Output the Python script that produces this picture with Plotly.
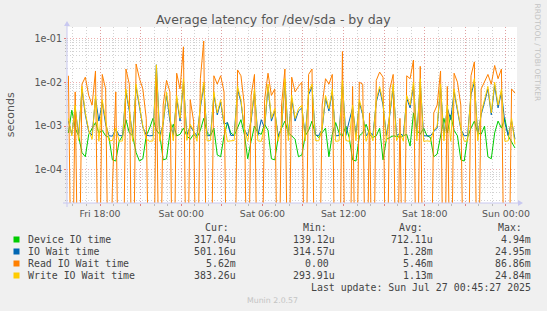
import pandas as pd
import plotly.graph_objects as go

# ---------------- data (values in microseconds, 15-minute samples) ----------------
start_time = "2025-07-25 15:40"
n_samples = 133

device_io_us = [
    700, 2300, 900, 600, 250, 200, 650, 900, 1200, 700,
    800, 600, 550, 170, 160, 450, 600, 1400, 700, 600,
    250, 160, 180, 600, 900, 1500, 800, 650, 170, 180,
    700, 1100, 600, 650, 900, 600, 500, 650, 550, 800,
    1500, 700, 600, 900, 220, 200, 600, 1200, 700, 600,
    900, 1400, 650, 180, 450, 1000, 700, 650, 1100, 800,
    180, 170, 550, 900, 1300, 700, 600, 500, 200, 220,
    600, 800, 1300, 650, 550, 700, 900, 200, 650, 1200,
    700, 600, 1000, 550, 170, 160, 600, 700, 1100, 650,
    550, 600, 900, 170, 500, 550, 600, 580, 560, 600,
    650, 350, 2000, 800, 650, 900, 600, 550, 200, 230,
    600, 1500, 700, 1800, 800, 600, 170, 160, 550, 900,
    1300, 700, 650, 1000, 200, 180, 700, 1300, 900, 1500,
    600, 450, 317,
]

io_wait_us = [
    1300, 650, 2600, 600, 7000, 1800, 750, 620, 4300, 1300,
    3500, 1100, 600, 590, 850, 610, 600, 6000, 2200, 600,
    7800, 2600, 950, 620, 600, 610, 24950, 600, 1100, 5200,
    1300, 610, 4300, 1300, 10000, 620, 1000, 750, 600, 2600,
    8500, 600, 610, 5200, 1800, 3500, 1100, 1200, 610, 620,
    7000, 3500, 850, 600, 1300, 6000, 610, 1400, 900, 7800,
    1300, 2200, 600, 900, 10000, 610, 4300, 1300, 2200, 2600,
    610, 5200, 7800, 620, 610, 850, 4300, 2200, 6000, 600,
    610, 9500, 620, 1300, 2600, 610, 3500, 1800, 600, 750,
    610, 3500, 7000, 3000, 600, 1800, 7800, 610, 680, 600,
    4300, 2600, 8500, 610, 10000, 600, 610, 600, 750, 900,
    7800, 610, 2600, 1400, 6000, 2200, 850, 600, 610, 5200,
    10000, 610, 1800, 3500, 7000, 1800, 8500, 2600, 6000, 1200,
    610, 1300, 501,
]

read_wait_us = [
    14000, 0, 6000, 0, 9000, 13000, 5000, 3000, 18000, 0,
    15000, 7000, 0, 40, 6000, 0, 0, 20000, 9000, 0,
    26000, 12000, 7000, 1500, 0, 0, 15000, 0, 3000, 11000,
    6000, 0, 16000, 7000, 64000, 0, 4000, 1300, 0, 12000,
    86860, 0, 0, 14000, 9000, 14000, 6000, 0, 0, 0,
    19000, 14000, 3000, 0, 5000, 15000, 0, 0, 4000, 16000,
    5000, 7000, 0, 3000, 20000, 0, 13000, 6000, 8000, 10000,
    0, 15000, 20000, 0, 0, 3000, 12000, 9000, 15000, 0,
    0, 50000, 0, 0, 8000, 0, 10000, 9000, 0, 2000,
    0, 11000, 17000, 13000, 0, 7000, 15000, 0, 1500, 0,
    14000, 12000, 32000, 0, 23000, 0, 0, 0, 2000, 3000,
    18000, 0, 8000, 0, 16000, 10000, 3000, 0, 0, 14000,
    29000, 0, 7000, 10000, 15000, 9000, 24000, 12000, 20000, 0,
    0, 7000, 5620,
]

write_wait_us = [
    1500, 600, 3000, 470, 8000, 2000, 800, 500, 5000, 450,
    4000, 1200, 460, 470, 900, 450, 460, 7000, 2500, 450,
    9000, 3000, 1000, 500, 450, 460, 24840, 450, 1200, 6000,
    1500, 460, 5000, 1500, 12000, 470, 1100, 800, 450, 3000,
    10000, 460, 470, 6000, 2000, 4000, 1200, 450, 460, 470,
    8000, 4000, 900, 450, 1500, 7000, 460, 450, 1000, 9000,
    1500, 2500, 450, 1000, 12000, 460, 5000, 1500, 2500, 3000,
    460, 6000, 9000, 470, 460, 900, 5000, 2500, 7000, 450,
    460, 11000, 470, 450, 3000, 460, 4000, 2000, 450, 800,
    460, 4000, 8000, 3500, 450, 2000, 9000, 460, 700, 450,
    5000, 3000, 10000, 460, 12000, 450, 460, 450, 800, 1000,
    9000, 460, 3000, 450, 7000, 2500, 900, 450, 460, 6000,
    12000, 460, 2000, 4000, 8000, 2000, 10000, 3000, 7000, 450,
    460, 1500, 383,
]

series_names = ["Device IO time", "IO Wait time", "Read IO Wait time", "Write IO Wait time"]
series_colors = ["#00CC00", "#0066B3", "#FF8000", "#FFCC00"]
cur_vals = ["317.04u", "501.16u", "5.62m", "383.26u"]
min_vals = ["139.12u", "314.57u", "0.00", "293.91u"]
avg_vals = ["712.11u", "1.28m", "5.46m", "1.13m"]
max_vals = ["4.94m", "24.95m", "86.86m", "24.84m"]

x_tick_times = ["2025-07-25 15:00", "2025-07-25 18:00", "2025-07-25 21:00",
                "2025-07-26 00:00", "2025-07-26 03:00", "2025-07-26 06:00",
                "2025-07-26 09:00", "2025-07-26 12:00", "2025-07-26 15:00",
                "2025-07-26 18:00", "2025-07-26 21:00", "2025-07-27 00:00"]
x_tick_labels = ["", "Fri 18:00", "", "Sat 00:00", "", "Sat 06:00", "",
                 "Sat 12:00", "", "Sat 18:00", "", "Sun 00:00"]
y_tick_vals = [1e-4, 1e-3, 1e-2, 1e-1]
y_tick_labels = ["1e-04", "1e-03", "1e-02", "1e-01"]

# ---------------- figure ----------------
W, H = 547, 311
PL, PT, PR, PB = 67, 27, 517, 203
PW, PH = PR - PL, PB - PT
FLOOR = 1e-8  # zero values drawn below the visible log range


def pxx(x):
    return (x - PL) / PW


def pxy(y):
    return 1 - (y - PT) / PH


times = pd.date_range(start_time, periods=n_samples, freq="15min")

fig = go.Figure()
for name, color, vals in zip(series_names, series_colors,
                             [device_io_us, io_wait_us, read_wait_us, write_wait_us]):
    yv = [v * 1e-6 if v > 0 else FLOOR for v in vals]
    fig.add_trace(go.Scatter(x=times, y=yv, mode="lines", name=name,
                             line=dict(color=color, width=1), showlegend=False,
                             hoverinfo="skip"))

major_grid = "rgba(230,140,140,0.7)"
minor_grid = "rgba(180,180,180,0.6)"
gdash = "1px,2px"

minor_y = [m * 10.0 ** e for e in range(-5, 0) for m in range(2, 10)]

fig.update_xaxes(
    type="date",
    range=["2025-07-25 15:33:40", "2025-07-27 00:49:00"],
    tickmode="array", tickvals=x_tick_times, ticktext=x_tick_labels,
    showgrid=True, gridcolor=major_grid, griddash=gdash, gridwidth=1,
    ticks="outside", ticklen=2, tickcolor="#E08080",
    tickfont=dict(family="DejaVu Sans", size=9.4, color="#555555"),
    showline=False, zeroline=False,
    minor=dict(dtick=3600000, showgrid=True, gridcolor=minor_grid, griddash=gdash,
               gridwidth=1, ticks="outside", ticklen=2, tickcolor="#BBBBBB"),
)
fig.update_yaxes(
    type="log",
    range=[-4.752, -0.743],
    tickmode="array", tickvals=y_tick_vals, ticktext=y_tick_labels,
    showgrid=True, gridcolor=major_grid, griddash=gdash, gridwidth=1,
    ticks="outside", ticklen=2, tickcolor="#E08080",
    tickfont=dict(family="DejaVu Sans", size=9.6, color="#555555"),
    showline=False, zeroline=False,
    minor=dict(tickvals=minor_y, showgrid=True, gridcolor=minor_grid, griddash=gdash,
               gridwidth=1, ticks="outside", ticklen=1, tickcolor="#BBBBBB"),
)

shapes = []
axis_col = "#C8C8F0"
# x axis line + arrow
shapes.append(dict(type="line", xref="paper", yref="paper", x0=pxx(63), x1=pxx(519),
                   y0=pxy(PB), y1=pxy(PB), line=dict(color=axis_col, width=1)))
shapes.append(dict(type="path", xref="paper", yref="paper",
                   path=f"M {pxx(518)},{pxy(200)} L {pxx(523)},{pxy(PB)} L {pxx(518)},{pxy(206)} Z",
                   fillcolor=axis_col, line=dict(color=axis_col, width=0)))
# y axis line + arrow
shapes.append(dict(type="line", xref="paper", yref="paper", x0=pxx(PL), x1=pxx(PL),
                   y0=pxy(207), y1=pxy(25), line=dict(color=axis_col, width=1)))
shapes.append(dict(type="path", xref="paper", yref="paper",
                   path=f"M {pxx(64)},{pxy(26)} L {pxx(PL)},{pxy(21)} L {pxx(70)},{pxy(26)} Z",
                   fillcolor=axis_col, line=dict(color=axis_col, width=0)))

annotations = []
mono = "DejaVu Sans Mono"
txt_col = "#444444"
fs = 9.9

row_y = [239.5, 251.5, 263.5, 275.5]
for i, name in enumerate(series_names):
    yy = row_y[i]
    shapes.append(dict(type="rect", xref="paper", yref="paper",
                       x0=pxx(13.5), x1=pxx(19.5), y0=pxy(yy - 3), y1=pxy(yy + 3),
                       fillcolor=series_colors[i], line=dict(width=0)))
    annotations.append(dict(text=name, x=pxx(25.5), y=pxy(yy), xanchor="left", yanchor="middle"))
    annotations.append(dict(text=cur_vals[i], x=pxx(237.5), y=pxy(yy), xanchor="right", yanchor="middle"))
    if min_vals[i] == "0.00":
        annotations.append(dict(text=min_vals[i], x=pxx(330.8), y=pxy(yy), xanchor="right", yanchor="middle"))
    else:
        annotations.append(dict(text=min_vals[i], x=pxx(336.8), y=pxy(yy), xanchor="right", yanchor="middle"))
    annotations.append(dict(text=avg_vals[i], x=pxx(435), y=pxy(yy), xanchor="right", yanchor="middle"))
    annotations.append(dict(text=max_vals[i], x=pxx(532.7), y=pxy(yy), xanchor="right", yanchor="middle"))

for label, xl in zip(["Cur:", "Min:", "Avg:", "Max:"], [202.7, 300.7, 397, 496]):
    annotations.append(dict(text=label, x=pxx(xl), y=pxy(227.5), xanchor="left", yanchor="middle"))
annotations.append(dict(text="Last update: Sun Jul 27 00:45:27 2025", x=pxx(532.7), y=pxy(287),
                        xanchor="right", yanchor="middle"))

for a in annotations:
    a.update(xref="paper", yref="paper", showarrow=False,
             font=dict(family=mono, size=fs, color=txt_col))

annotations.append(dict(text="Munin 2.0.57", x=pxx(272.5), y=pxy(300), xref="paper", yref="paper",
                        xanchor="center", yanchor="middle", showarrow=False,
                        font=dict(family="DejaVu Sans", size=7.8, color="#C4C4C4")))
annotations.append(dict(text="RRDTOOL / TOBI OETIKER", x=pxx(537.5), y=pxy(53), xref="paper", yref="paper",
                        xanchor="center", yanchor="middle", showarrow=False, textangle=90,
                        font=dict(family="DejaVu Sans", size=7.6, color="#C4C4C4")))
annotations.append(dict(text="seconds", x=pxx(10.7), y=pxy(114.5), xref="paper", yref="paper",
                        xanchor="center", yanchor="middle", showarrow=False, textangle=-90,
                        font=dict(family="DejaVu Sans", size=11, color="#555555")))
annotations.append(dict(text="Average latency for /dev/sda - by day", x=pxx(273), y=pxy(19.5),
                        xref="paper", yref="paper", xanchor="center", yanchor="middle",
                        showarrow=False,
                        font=dict(family="DejaVu Sans", size=12.5, color="#555555")))

fig.update_layout(
    width=W, height=H,
    margin=dict(l=PL, r=W - PR, t=PT, b=H - PB, pad=0),
    paper_bgcolor="#F0F0F0", plot_bgcolor="#FFFFFF",
    shapes=shapes, annotations=annotations, showlegend=False,
)

fig.write_html("out.html")
